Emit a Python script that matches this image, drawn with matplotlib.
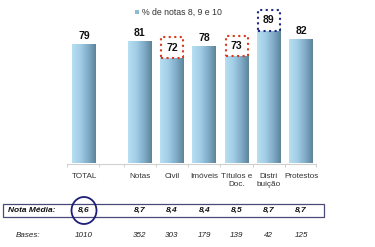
import numpy as np
import matplotlib
matplotlib.use('Agg')
import matplotlib.pyplot as plt
from matplotlib.colors import LinearSegmentedColormap
from matplotlib.patches import Rectangle, Ellipse
from matplotlib.transforms import blended_transform_factory

plt.rcParams['font.family'] = ['Liberation Sans', 'DejaVu Sans']

categories = ['TOTAL', 'Notas', 'Civil', 'Imóveis', 'Títulos e\nDoc.', 'Distri\nbuição', 'Protestos']
values = [79, 81, 72, 78, 73, 89, 82]
medias = ['8,6', '8,7', '8,4', '8,4', '8,5', '8,7', '8,7']
bases = ['1010', '352', '303', '179', '139', '42', '125']
legend_label = '% de notas 8, 9 e 10'

# layout: TOTAL sits apart from the rest
xpos = np.array([0, 1.72, 2.72, 3.72, 4.72, 5.72, 6.72])
red_boxes = [2, 4]
blue_boxes = [5]

W, H = 375, 247
fig = plt.figure(figsize=(W / 100, H / 100), dpi=100)

ymin, ymax = 5, 100
ax = fig.add_axes([67 / W, (H - 163.5) / H, (316 - 67) / W, 152 / H])
ax.set_xlim(-0.53, 7.18)
ax.set_ylim(ymin, ymax)

cmap = LinearSegmentedColormap.from_list('bar', ['#b8def2', '#a2cee7', '#82aecb', '#5e8499'])
grad = np.linspace(0, 1, 64).reshape(1, -1)
bw = 0.74
for x, v in zip(xpos, values):
    ax.imshow(grad, extent=[x - bw / 2, x + bw / 2, ymin, v], aspect='auto', cmap=cmap, zorder=2)

for i, (x, v) in enumerate(zip(xpos, values)):
    if i in red_boxes or i in blue_boxes:
        col = '#d83a1c' if i in red_boxes else '#1c2a86'
        ax.text(x, v + 5.5, str(v), ha='center', va='center', fontsize=7.5, fontweight='bold',
                color='#111111', zorder=4,
                bbox=dict(boxstyle='square,pad=0.5', fc='white', ec=col, lw=1.5, ls=':'))
    else:
        ax.text(x, v + 2.5, str(v), ha='center', va='bottom', fontsize=7.5, fontweight='bold',
                color='#111111', zorder=4)

ax.set_xticks(xpos)
ax.set_xticklabels(categories, fontsize=5.9, color='#333333', linespacing=1.15)
ax.tick_params(axis='x', length=0, pad=7)
ax.set_xticks([-0.53, 0.47, 1.22, 2.22, 3.22, 4.22, 5.22, 6.22, 7.18], minor=True)
ax.tick_params(axis='x', which='minor', length=2, color='#c8c8c8')
ax.set_yticks([])
for s in ['top', 'right', 'left']:
    ax.spines[s].set_visible(False)
ax.spines['bottom'].set_color('#d0d0d0')
ax.spines['bottom'].set_linewidth(0.8)

# legend
lax = fig.add_axes([0, 0, 1, 1], facecolor='none')
lax.set_xlim(0, W)
lax.set_ylim(H, 0)
lax.axis('off')
lax.add_patch(Rectangle((135, 10), 4, 4, fc='#8fbad4', ec='none'))
lax.text(142, 12, legend_label, fontsize=6.3, color='#333333', va='center', ha='left')

# table rows
lax.add_patch(Rectangle((3, 204), 321, 13, fc='none', ec='#4a4a78', lw=0.9))
lax.text(8, 210.5, 'Nota Média:', fontsize=6, fontweight='bold', style='italic', va='center', color='#111111')
lax.text(16, 235, 'Bases:', fontsize=5.8, style='italic', va='center', color='#222222')
tr = blended_transform_factory(ax.transData, lax.transData)
for x, m, b in zip(xpos, medias, bases):
    lax.text(x, 210.5, m, transform=tr, fontsize=6, fontweight='bold', style='italic',
             ha='center', va='center', color='#111111')
    lax.text(x, 235, b, transform=tr, fontsize=5.8, style='italic',
             ha='center', va='center', color='#222222')
lax.add_patch(Ellipse((84, 210.5), 25, 27, fc='none', ec='#1e1e78', lw=1.3))

fig.savefig('out.png', dpi=100)
